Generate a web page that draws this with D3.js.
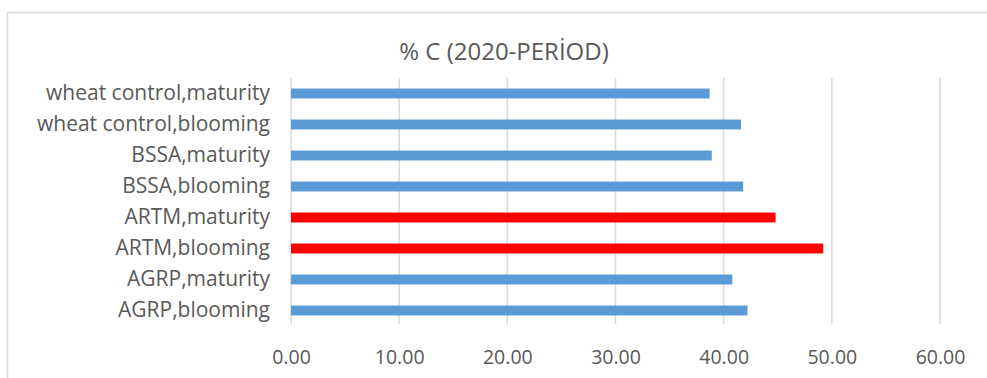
<!DOCTYPE html>
<html>
<head>
<meta charset="utf-8">
<script src="https://cdn.jsdelivr.net/npm/d3@7"></script>
<style>
  html, body { margin: 0; padding: 0; background: #fff; }
  svg { display: block; }
  text { font-family: "Open Sans", Lato, sans-serif; fill: #595959; }
</style>
</head>
<body>
<svg id="chart" width="987" height="378"></svg>
<script>
const title = "% C (2020-PERİOD)";
const categories = [
  "wheat control,maturity",
  "wheat control,blooming",
  "BSSA,maturity",
  "BSSA,blooming",
  "ARTM,maturity",
  "ARTM,blooming",
  "AGRP,maturity",
  "AGRP,blooming"
];
const values = [38.7, 41.6, 38.9, 41.8, 44.8, 49.2, 40.8, 42.2];
const highlighted = ["ARTM,maturity", "ARTM,blooming"];
const tickValues = [0, 10, 20, 30, 40, 50, 60];

const FONT = "'Open Sans', Lato, sans-serif";
const svg = d3.select("#chart");

// chart frame
svg.append("rect")
  .attr("x", 7.5).attr("y", 12.5)
  .attr("width", 1000).attr("height", 400)
  .attr("fill", "#fff")
  .attr("stroke", "#d9d9d9").attr("stroke-width", 1.5);

const x = d3.scaleLinear().domain([0, 60]).range([291, 940]);
const y = d3.scaleBand().domain(categories).range([78, 326])
  .paddingInner(0.68).paddingOuter(0.34);

// gridlines
svg.append("g").selectAll("line").data(tickValues).join("line")
  .attr("x1", d => x(d)).attr("x2", d => x(d))
  .attr("y1", 78).attr("y2", 324)
  .attr("stroke", "#d9d9d9").attr("stroke-width", 1.5);

// bars
svg.append("g").selectAll("rect").data(categories).join("rect")
  .attr("x", x(0))
  .attr("y", d => y(d))
  .attr("height", y.bandwidth())
  .attr("width", (d, i) => x(values[i]) - x(0))
  .attr("fill", d => highlighted.includes(d) ? "#ff0000" : "#5b9bd5");

// y axis labels
const yAxis = d3.axisLeft(y).tickSize(0).tickPadding(21);
const gy = svg.append("g").attr("transform", `translate(${x(0)},0)`).call(yAxis);
gy.select(".domain").remove();
gy.selectAll("text")
  .attr("font-size", 21)
  .style("font-family", FONT)
  .attr("fill", "#595959");

// x axis labels
const xAxis = d3.axisBottom(x).tickValues(tickValues).tickFormat(d3.format(".2f")).tickSize(0).tickPadding(0);
const gx = svg.append("g").attr("transform", `translate(0,364)`).call(xAxis);
gx.select(".domain").remove();
gx.selectAll("text")
  .attr("dy", 0).attr("y", 0)
  .attr("font-size", 19.5)
  .style("font-family", FONT)
  .attr("fill", "#595959");

// title
svg.append("text")
  .attr("x", 504).attr("y", 60)
  .attr("text-anchor", "middle")
  .attr("font-size", 24)
  .style("font-family", FONT)
  .text(title);
</script>
</body>
</html>
